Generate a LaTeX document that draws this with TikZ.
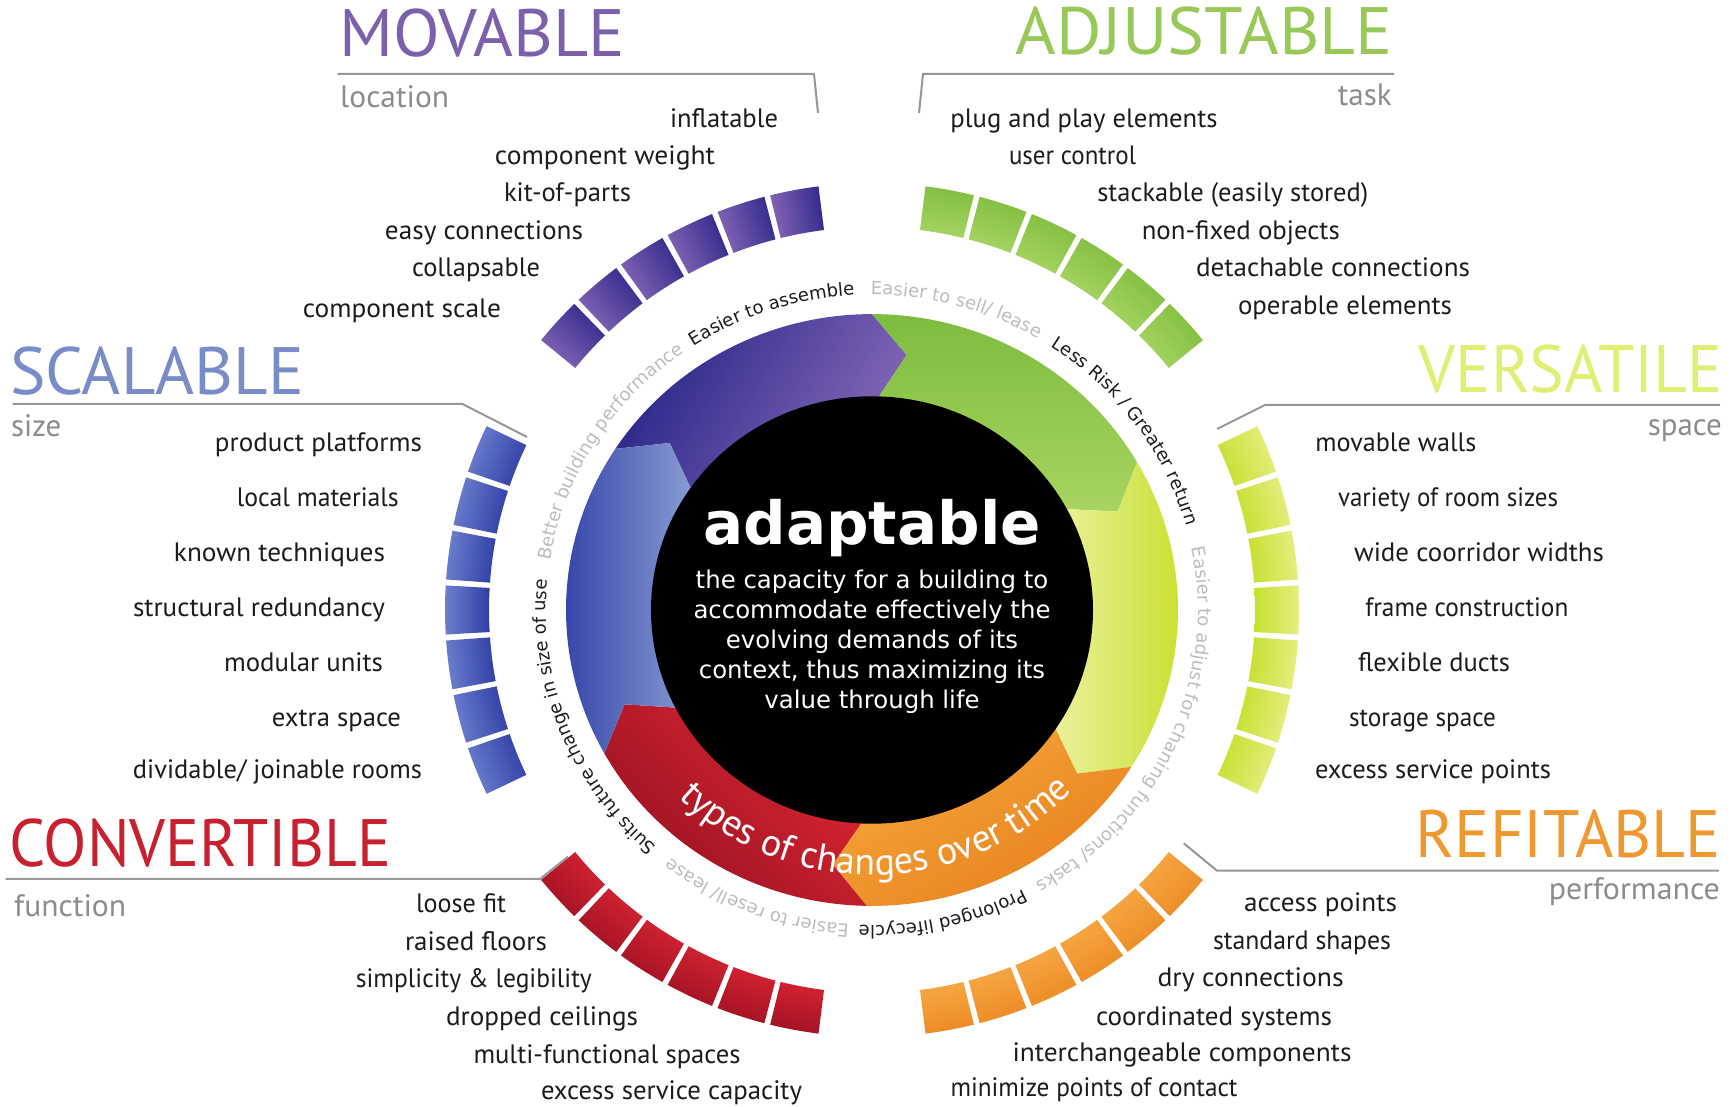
\documentclass[tikz,border=0pt]{standalone}
\usepackage{fontspec}
\usepackage{graphicx}
\setmainfont{PT Sans}
\newfontfamily\dejavu{DejaVu Sans}
\usetikzlibrary{decorations.text}

% heading colours
\definecolor{movc}{RGB}{124,96,172}
\definecolor{adjc}{RGB}{152,201,88}
\definecolor{scac}{RGB}{120,140,200}
\definecolor{verc}{RGB}{224,238,116}
\definecolor{conc}{RGB}{200,32,46}
\definecolor{refc}{RGB}{240,152,48}
\definecolor{subgray}{RGB}{140,140,140}
\definecolor{rulegray}{RGB}{150,150,150}
\definecolor{arcgray}{RGB}{188,188,188}
\definecolor{inkblack}{RGB}{28,28,28}
% ring segment colours
\definecolor{segPa}{RGB}{40,38,135}\definecolor{segPb}{RGB}{135,105,185}
\definecolor{segGa}{RGB}{125,188,62}\definecolor{segGb}{RGB}{168,212,98}
\definecolor{segYa}{RGB}{198,222,40}\definecolor{segYb}{RGB}{236,242,160}
\definecolor{segOa}{RGB}{232,128,30}\definecolor{segOb}{RGB}{246,168,60}
\definecolor{segRa}{RGB}{150,18,35}\definecolor{segRb}{RGB}{222,38,48}
\definecolor{segBa}{RGB}{45,60,165}\definecolor{segBb}{RGB}{138,158,210}
% tile colours
\definecolor{tilPa}{RGB}{132,102,182}\definecolor{tilPb}{RGB}{50,42,140}
\definecolor{tilGa}{RGB}{128,190,62}\definecolor{tilGb}{RGB}{168,212,100}
\definecolor{tilBa}{RGB}{108,128,205}\definecolor{tilBb}{RGB}{48,62,165}
\definecolor{tilYa}{RGB}{230,238,130}\definecolor{tilYb}{RGB}{198,224,48}
\definecolor{tilRa}{RGB}{160,18,35}\definecolor{tilRb}{RGB}{212,35,50}
\definecolor{tilOa}{RGB}{236,138,35}\definecolor{tilOb}{RGB}{246,168,70}

\newcommand\labfont{\fontsize{26.6}{30}\selectfont}
\newcommand\headfont{\fontsize{67}{70}\selectfont}
\newcommand\subfont{\fontsize{31}{33}\selectfont}
\newcommand\arcfont{\dejavu\fontsize{18}{20}\selectfont}
\newcommand\ringfont{\fontsize{38}{40}\selectfont}
% set a text to a given width, keeping its height
\newcommand\fitw[2]{\resizebox{#1pt}{\height}{#2}}

% one arrow segment of the ring: start angle, end angle, fill options
\newcommand\ringseg[3]{%
  \path[#3] (#1:306) arc[start angle=#1, end angle=#2, radius=306]
    -- ({#2-7.5}:266) -- (#2:210) arc[start angle=#2, end angle=#1, radius=210]
    -- ({#1-7.5}:266) -- cycle;}

% a row of tiles: centre angle, count, colour a, colour b, direction of colour a
\newcommand\tilegroup[5]{%
  \foreach \k in {1,...,#2}{%
    \pgfmathsetmacro\tm{#1+((#2+1)/2-\k)*7.4}%
    \pgfmathsetmacro\ta{\tm+3.3}%
    \pgfmathsetmacro\tb{\tm-3.3}%
    \pgfmathsetmacro\ts{\tm+#5-90}%
    \path[top color=#3, bottom color=#4, shading angle=\ts]
      (\ta:383) arc[start angle=\ta, end angle=\tb, radius=383]
      -- (\tb:427) arc[start angle=\tb, end angle=\ta, radius=427] -- cycle;
  }}

% text running clockwise round the ring: middle angle, radius, colour, text
\newcommand\arctext[4]{%
  \path[decorate, decoration={text along path, text align=center, text color=#3,
      text={|\arcfont|#4}}]
    ({#1+60}:#2) arc[start angle={#1+60}, end angle={#1-60}, radius=#2];}

\begin{document}
\begin{tikzpicture}[x=1pt, y=1pt,
  lab/.style={anchor=base, font=\labfont, text=inkblack, inner sep=0pt},
  headl/.style={anchor=base west, font=\headfont, inner sep=0pt},
  headr/.style={anchor=base east, font=\headfont, inner sep=0pt},
  subl/.style={anchor=base west, font=\subfont, text=subgray, inner sep=0pt},
  subr/.style={anchor=base east, font=\subfont, text=subgray, inner sep=0pt},
  rule/.style={draw=rulegray, line width=2pt},
  para/.style={anchor=base, font=\dejavu\fontsize{24.4}{29}\selectfont, text=white, inner sep=0pt}]

\useasboundingbox (0,0) rectangle (1735,1106);
\fill[white] (0,0) rectangle (1735,1106);

% ---------- tiles ----------
\begin{scope}[shift={(872,496)}]
  \tilegroup{0}{7}{tilYa}{tilYb}{0}
  \tilegroup{61}{6}{tilGa}{tilGb}{0}
  \tilegroup{119}{6}{tilPa}{tilPb}{90}
  \tilegroup{180}{7}{tilBa}{tilBb}{0}
  \tilegroup{241}{6}{tilRa}{tilRb}{0}
  \tilegroup{299}{6}{tilOa}{tilOb}{0}
\end{scope}

% ---------- arrow ring, centre disc and ring texts ----------
\begin{scope}[shift={(872,496)}, yscale=0.967]
  \ringseg{147}{90}{top color=segPa, bottom color=segPb, shading angle=60}
  \ringseg{90}{30}{top color=segGa, bottom color=segGb, shading angle=0}
  \ringseg{30}{-32}{top color=segYa, bottom color=segYb, shading angle=-90}
  \ringseg{-32}{-91}{top color=segOa, bottom color=segOb, shading angle=-150}
  \ringseg{269}{209}{top color=segRa, bottom color=segRb, shading angle=135}
  \ringseg{209}{147}{top color=segBa, bottom color=segBb, shading angle=90}
  \fill[black] (0,0) circle[radius=221];

  \arctext{108.5}{326}{inkblack}{Easier to assemble}
  \arctext{74.5}{326}{arcgray}{Easier to sell/ lease}
  \arctext{35.5}{326}{inkblack}{Less Risk / Greater return}
  \arctext{-24}{326}{arcgray}{Easier to adjust for chaning functions/ tasks}
  \arctext{-77}{326}{inkblack}{Prolonged lifecycle}
  \arctext{-111.5}{326}{arcgray}{Easier to resell/ lease}
  \arctext{-158.75}{326}{inkblack}{Suits future change in size of use}
  \arctext{148.5}{326}{arcgray}{Better building performance}

  \path[decorate, decoration={text along path, text align=center, text color=white,
      text={|\ringfont|types of changes over time}}]
    (211:274) arc[start angle=211, end angle=331, radius=274];
\end{scope}

% ---------- centre text ----------
\node[anchor=base, font=\dejavu\bfseries\fontsize{59.5}{60}\selectfont, text=white, inner sep=0pt] (title) at (872,561) {adaptable};
\node[para] (p1) at (872,517) {the capacity for a building to};
\node[para] (p2) at (872,487.2) {accommodate effectively the};
\node[para] (p3) at (872,457.4) {evolving demands of its};
\node[para] (p4) at (872,427.6) {context, thus maximizing its};
\node[para] (p5) at (872,397.8) {value through life};

% ---------- headings ----------
\node[headl, text=movc] (hMov) at (339,1049.3) {\fitw{286}{MOVABLE}};
\node[subl] (sMov) at (340,998) {\fitw{109}{location}};
\node[headr, text=adjc] (hAdj) at (1393,1051) {\fitw{377}{ADJUSTABLE}};
\node[subr] (sAdj) at (1392,1000) {\fitw{54}{task}};
\node[headl, text=scac] (hSca) at (10,711) {\fitw{294}{SCALABLE}};
\node[subl] (sSca) at (11,669) {\fitw{50}{size}};
\node[headr, text=verc] (hVer) at (1723,713) {\fitw{304}{VERSATILE}};
\node[subr] (sVer) at (1722,670) {\fitw{74}{space}};
\node[headl, text=conc] (hCon) at (9,239) {\fitw{382}{CONVERTIBLE}};
\node[subl] (sCon) at (14,189.3) {\fitw{112}{function}};
\node[headr, text=refc] (hRef) at (1721,248) {\fitw{305}{REFITABLE}};
\node[subr] (sRef) at (1720,206) {\fitw{171}{performance}};

% ---------- heading rules ----------
\coordinate (mv1) at (337.5,1032); \coordinate (mv2) at (814,1032); \coordinate (mv3) at (818,993);
\coordinate (ad1) at (1394,1032); \coordinate (ad2) at (923,1032); \coordinate (ad3) at (919,993);
\coordinate (sc1) at (12.5,702); \coordinate (sc2) at (462.5,702); \coordinate (sc3) at (527,669);
\coordinate (ve1) at (1720,701); \coordinate (ve2) at (1265,701); \coordinate (ve3) at (1217,677);
\coordinate (co1) at (5.5,227); \coordinate (co2) at (540,227); \coordinate (co3) at (568,249.3);
\coordinate (re1) at (1719,235.3); \coordinate (re2) at (1217,235.3); \coordinate (re3) at (1183.7,262.7);
\draw[rule] (mv1) -- (mv2) -- (mv3);
\draw[rule] (ad1) -- (ad2) -- (ad3);
\draw[rule] (sc1) -- (sc2) -- (sc3);
\draw[rule] (ve1) -- (ve2) -- (ve3);
\draw[rule] (co1) -- (co2) -- (co3);
\draw[rule] (re1) -- (re2) -- (re3);

% ---------- movable ----------
\node[lab] (m1) at (724,978) {\fitw{108}{inflatable}};
\node[lab] (m2) at (605,941) {\fitw{220}{component weight}};
\node[lab] (m3) at (567.5,904) {\fitw{127}{kit-of-parts}};
\node[lab] (m4) at (484,866) {\fitw{198}{easy connections}};
\node[lab] (m5) at (476,829) {\fitw{128}{collapsable}};
\node[lab] (m6) at (402,788) {\fitw{198}{component scale}};

% ---------- adjustable ----------
\node[lab] (a1) at (1084,978) {\fitw{267}{plug and play elements}};
\node[lab] (a2) at (1072.5,941) {\fitw{127}{user control}};
\node[lab] (a3) at (1232.8,904) {\fitw{271}{stackable (easily stored)}};
\node[lab] (a4) at (1240.8,866) {\fitw{198}{non-fixed objects}};
\node[lab] (a5) at (1333,829) {\fitw{274}{detachable connections}};
\node[lab] (a6) at (1345,791) {\fitw{214}{operable elements}};

% ---------- scalable ----------
\node[lab] (s1) at (318.5,654.3) {\fitw{207}{product platforms}};
\node[lab] (s2) at (317.8,599.3) {\fitw{162}{local materials}};
\node[lab] (s3) at (279.5,544.3) {\fitw{211}{known techniques}};
\node[lab] (s4) at (259,489.3) {\fitw{252}{structural redundancy}};
\node[lab] (s5) at (303.5,434.3) {\fitw{159}{modular units}};
\node[lab] (s6) at (336.5,379.3) {\fitw{129}{extra space}};
\node[lab] (s7) at (277.5,327) {\fitw{289}{dividable/ joinable rooms}};

% ---------- versatile ----------
\node[lab] (v1) at (1395.8,654.3) {\fitw{161}{movable walls}};
\node[lab] (v2) at (1448,599.3) {\fitw{220}{variety of room sizes}};
\node[lab] (v3) at (1479,544.3) {\fitw{250}{wide coorridor widths}};
\node[lab] (v4) at (1466.8,489.3) {\fitw{203}{frame construction}};
\node[lab] (v5) at (1434,434.3) {\fitw{152}{flexible ducts}};
\node[lab] (v6) at (1422.5,379.3) {\fitw{147}{storage space}};
\node[lab] (v7) at (1433,327) {\fitw{236}{excess service points}};

% ---------- convertible ----------
\node[lab] (c1) at (461,193.3) {\fitw{90}{loose fit}};
\node[lab] (c2) at (476,155.3) {\fitw{142}{raised floors}};
\node[lab] (c3) at (473.8,118) {\fitw{236}{simplicity \& legibility}};
\node[lab] (c4) at (542,80) {\fitw{192}{dropped ceilings}};
\node[lab] (c5) at (607,43) {\fitw{267}{multi-functional spaces}};
\node[lab] (c6) at (671.5,7) {\fitw{261}{excess service capacity}};

% ---------- refitable ----------
\node[lab] (r1) at (1320.5,194.3) {\fitw{153}{access points}};
\node[lab] (r2) at (1302,156) {\fitw{178}{standard shapes}};
\node[lab] (r3) at (1250.6,119.3) {\fitw{186}{dry connections}};
\node[lab] (r4) at (1214,81) {\fitw{236}{coordinated systems}};
\node[lab] (r5) at (1182,44.3) {\fitw{339}{interchangeable components}};
\node[lab] (r6) at (1094,9.3) {\fitw{287}{minimize points of contact}};

\end{tikzpicture}
\end{document}
